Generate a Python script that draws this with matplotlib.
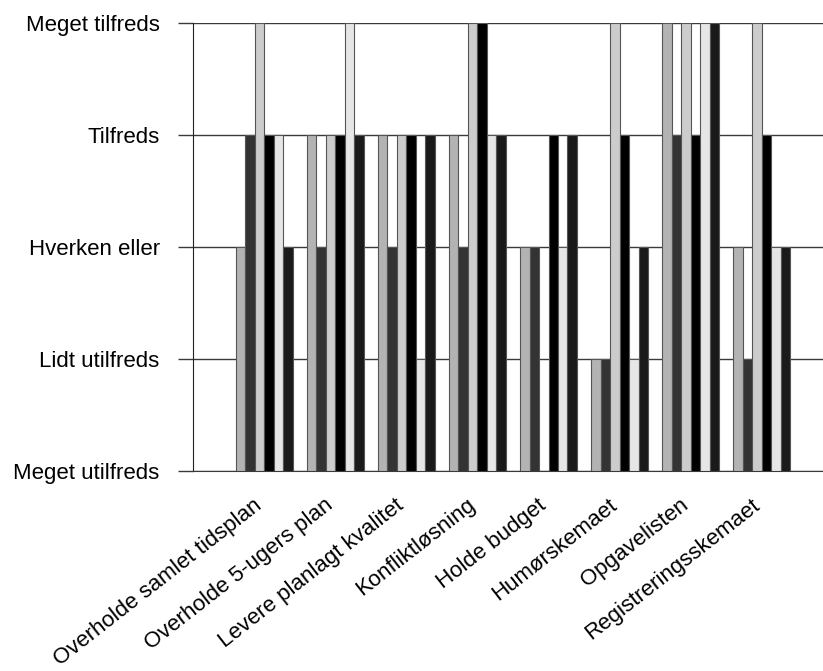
import matplotlib.pyplot as plt
import matplotlib.transforms as mtransforms
import numpy as np

plt.rcParams["font.family"] = ["Liberation Sans", "DejaVu Sans"]

kategorier = [
    "Overholde samlet tidsplan",
    "Overholde 5-ugers plan",
    "Levere planlagt kvalitet",
    "Konfliktløsning",
    "Holde budget",
    "Humørskemaet",
    "Opgavelisten",
    "Registreringsskemaet",
]
niveauer = ["Meget utilfreds", "Lidt utilfreds", "Hverken eller", "Tilfreds", "Meget tilfreds"]

# one list per respondent, 1 = Meget utilfreds ... 5 = Meget tilfreds
svar_1 = [3, 4, 4, 4, 3, 2, 5, 3]
svar_2 = [4, 3, 3, 3, 3, 2, 4, 2]
svar_3 = [5, 4, 4, 5, 1, 5, 5, 5]
svar_4 = [4, 4, 4, 5, 4, 4, 4, 4]
svar_5 = [4, 5, 2, 4, 3, 2, 5, 3]
svar_6 = [3, 4, 4, 4, 4, 3, 5, 3]
serier = [svar_1, svar_2, svar_3, svar_4, svar_5, svar_6]
farver = ["#b3b3b3", "#333333", "#cccccc", "#000000", "#e6e6e6", "#1a1a1a"]

fig = plt.figure(figsize=(8.23, 6.71), dpi=100)
ax = fig.add_axes([0.2345, 0.2981, 0.7655, 0.6676])

x = np.arange(len(kategorier))
bredde = 0.8 / len(serier)
for i, (vals, farve) in enumerate(zip(serier, farver)):
    vals = np.array(vals)
    pos = x - 0.4 + bredde * (i + 0.5)
    ax.bar(pos, vals - 1, bottom=1, width=bredde, color=farve,
           edgecolor="#555555", linewidth=0.8, zorder=3)

ax.set_xlim(-1.0, 7.86)
ax.set_ylim(1, 5)
ax.set_yticks(range(1, 6))
ax.set_yticklabels(niveauer, fontsize=16)
ax.yaxis.grid(True, color="#3a3a3a", linewidth=1.0, zorder=0)
ax.tick_params(axis="y", length=11, width=1.0, color="#3a3a3a", pad=13)

ax.set_xticks(x)
ax.set_xticklabels(kategorier, fontsize=16, rotation=38, ha="right",
                   rotation_mode="anchor")
ax.tick_params(axis="x", length=0, pad=17)
# nudge the slanted labels a little to the left
skub = mtransforms.ScaledTranslation(-0.11, 0, fig.dpi_scale_trans)
for lbl in ax.get_xticklabels():
    lbl.set_transform(lbl.get_transform() + skub)

for side in ["top", "right"]:
    ax.spines[side].set_visible(False)
ax.spines["left"].set_color("#222222")
ax.spines["bottom"].set_color("#3a3a3a")

fig.savefig("out.png", dpi=100)
